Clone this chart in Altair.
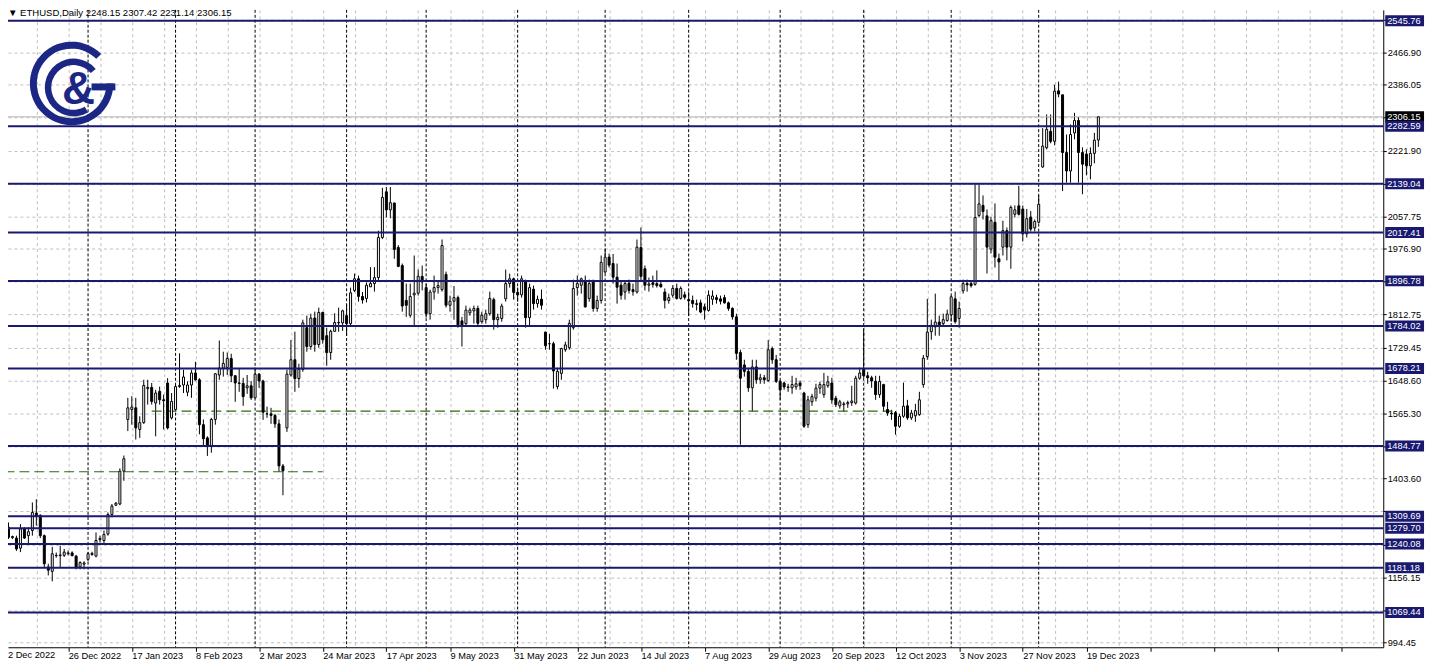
import altair as alt
import pandas as pd

# ---------------- data ----------------
opens = [1261,1282,1256,1255,1230,1278,1261,1274,1317,1312, 1261,1183,1172,1211,1211,1212,1216,1218,1210,1183,
         1190,1202,1214,1210,1251,1249,1265,1314,1337,1340, 1422,1551,1576,1580,1526,1543,1628,1631,1592,1621,
         1600,1642,1555,1576,1633,1637,1619,1637,1667,1650, 1538,1505,1484,1551,1662,1679,1681,1703,1660,1642,
         1641,1630,1635,1605,1664,1647,1565,1565,1561,1540, 1435,1530,1662,1700,1653,1676,1780,1733,1804,1738,
         1818,1760,1718,1771,1793,1792,1810,1790,1873,1902, 1858,1853,1882,1890,1905,2005,2119,2074,2091,1980,
         1935,1848,1811,1862,1866,1908,1880,1815,1869,1880, 1875,1913,1836,1846,1855,1797,1790,1817,1822,1828,
         1795,1800,1815,1850,1800,1803,1852,1890,1902,1868, 1862,1895,1805,1876,1840,1851,1769,1740,1740,1633,
         1666,1725,1730,1780,1880,1886,1894,1853,1894,1828, 1848,1919,1956,1940,1906,1886,1869,1891,1875,1869,
         1980,1927,1886,1892,1890,1888,1869,1848,1861,1878, 1853,1862,1850,1848,1840,1842,1832,1823,1851,1855,
         1852,1855,1842,1828,1807,1718,1687,1671,1630,1682, 1650,1655,1648,1728,1700,1646,1642,1632,1630,1632,
         1642,1617,1538,1595,1604,1629,1613,1635,1642,1604, 1585,1588,1590,1593,1592,1654,1676,1660,1655,1646,
         1613,1638,1576,1567,1568,1534,1559,1585,1555,1560, 1563,1638,1708,1770,1782,1794,1790,1798,1812,1852,
         1803,1872,1890,1890,1888,2060,2085,2059,1976,2043, 1952,1981,2022,1981,2063,2084,2076,2014,2056,2029,
         2043,2181,2229,2270,2245,2371,2361,2217,2171,2266, 2297,2217,2213,2184,2215,2248.15]
highs = [1294,1294,1261,1261,1290,1282,1282,1344,1352,1314, 1264,1191,1233,1219,1236,1228,1224,1222,1213,1197,
         1197,1220,1221,1269,1261,1274,1319,1340,1345,1429, 1461,1605,1609,1605,1559,1650,1650,1642,1625,1633,
         1613,1654,1617,1638,1716,1675,1646,1675,1695,1654, 1551,1509,1555,1667,1748,1720,1718,1715,1662,1678,
         1655,1662,1647,1680,1667,1650,1583,1580,1565,1551, 1440,1675,1749,1770,1690,1800,1810,1815,1820,1830,
         1820,1780,1775,1816,1830,1825,1838,1880,1915,1910, 1869,1893,1931,1931,2022,2129,2131,2131,2092,1986,
         1940,1890,1890,1960,1925,1935,1890,1875,1910,1895, 2000,1920,1860,1884,1860,1807,1835,1830,1835,1835,
         1820,1825,1870,1855,1815,1840,1925,1915,1905,1880, 1910,1900,1890,1885,1860,1875,1770,1765,1745,1680,
         1730,1745,1800,1900,1910,1905,1910,1900,1900,1860, 1960,1977,1965,1964,1940,1895,1895,1900,1890,2000,
         2030,1935,1905,1910,1923,1895,1878,1865,1886,1890, 1883,1870,1870,1860,1850,1850,1840,1873,1873,1862,
         1860,1862,1845,1831,1815,1725,1700,1680,1700,1700, 1665,1662,1749,1733,1712,1650,1645,1640,1660,1655,
         1648,1620,1610,1615,1640,1645,1667,1660,1655,1610, 1600,1595,1598,1635,1660,1680,1775,1670,1660,1660,
         1660,1640,1595,1575,1572,1565,1643,1600,1575,1590, 1620,1712,1852,1800,1865,1810,1815,1825,1860,1870,
         1845,1900,1900,1895,2138,2138,2110,2075,2057,2090, 1965,2047,2030,2085,2085,2134,2085,2076,2071,2050,
         2110,2278,2312,2312,2386,2394,2361,2262,2287,2316, 2305,2230,2225,2230,2266,2307.42]
lows = [1253,1253,1253,1223,1220,1253,1241,1261,1286,1255, 1183,1162,1147,1206,1183,1208,1212,1210,1177,1177,
        1177,1197,1211,1207,1244,1241,1261,1307,1335,1337, 1398,1522,1538,1501,1505,1540,1588,1588,1509,1588,
        1526,1526,1551,1572,1630,1617,1609,1605,1648,1514, 1484,1460,1468,1538,1650,1658,1662,1644,1595,1620,
        1585,1615,1600,1605,1630,1550,1555,1540,1530,1420, 1362,1520,1658,1620,1630,1670,1720,1725,1720,1730,
        1740,1685,1700,1770,1770,1772,1760,1785,1869,1845, 1840,1843,1882,1870,1898,2001,2055,2053,1952,1931,
        1820,1807,1805,1782,1860,1873,1805,1800,1850,1865, 1870,1830,1820,1800,1780,1733,1785,1810,1790,1785,
        1790,1790,1810,1775,1780,1795,1845,1880,1850,1845, 1855,1780,1785,1825,1830,1825,1725,1725,1628,1626,
        1650,1720,1725,1775,1860,1865,1830,1845,1820,1820, 1840,1915,1930,1890,1840,1850,1850,1865,1860,1865,
        1894,1873,1870,1880,1880,1880,1828,1840,1855,1850, 1850,1850,1810,1830,1823,1816,1800,1820,1837,1840,
        1838,1840,1822,1800,1700,1488,1658,1620,1571,1640, 1640,1640,1645,1690,1642,1600,1625,1620,1615,1625,
        1625,1530,1530,1585,1596,1615,1605,1630,1590,1582, 1578,1570,1580,1585,1588,1650,1655,1640,1630,1600,
        1605,1570,1560,1550,1513,1530,1555,1550,1550,1545, 1560,1630,1700,1750,1760,1760,1785,1795,1795,1790,
        1780,1865,1870,1880,1885,2055,2050,1915,1965,1930, 1898,1960,1948,1927,2055,2060,1995,2005,2020,2020,
        2040,2179,2225,2240,2235,2355,2121,2142,2142,2250, 2142,2113,2160,2150,2190,2231.14]
closes = [1290,1257,1259,1228,1278,1255,1271,1319,1309,1261, 1191,1175,1216,1212,1213,1220,1218,1211,1183,1194,
          1193,1216,1217,1249,1254,1264,1314,1335,1342,1422, 1453,1580,1582,1530,1543,1636,1631,1596,1617,1600,
          1598,1530,1596,1633,1636,1657,1637,1667,1650,1538, 1503,1484,1551,1665,1679,1691,1703,1660,1642,1641,
          1608,1635,1605,1664,1647,1569,1565,1561,1540,1435, 1423,1664,1700,1653,1676,1792,1733,1804,1738,1818,
          1750,1718,1771,1793,1792,1822,1790,1867,1902,1858, 1849,1886,1890,1905,2005,2105,2074,2092,1975,1933,
          1834,1836,1858,1866,1908,1894,1815,1869,1880,1885, 1985,1836,1846,1855,1787,1787,1824,1824,1828,1791,
          1811,1815,1853,1800,1806,1834,1890,1902,1868,1862, 1902,1805,1880,1840,1851,1836,1735,1740,1672,1671,
          1728,1737,1791,1878,1890,1902,1832,1890,1828,1848, 1943,1956,1936,1906,1881,1861,1890,1873,1870,1981,
          1908,1886,1889,1888,1885,1882,1848,1855,1878,1853, 1878,1856,1847,1840,1838,1819,1824,1861,1859,1850,
          1846,1842,1828,1807,1716,1654,1671,1630,1682,1650, 1655,1650,1725,1700,1646,1625,1632,1631,1638,1640,
          1635,1534,1600,1608,1629,1638,1638,1645,1600,1588, 1595,1590,1593,1597,1654,1667,1660,1655,1647,1613,
          1646,1584,1567,1565,1534,1559,1584,1555,1567,1573, 1600,1704,1769,1786,1794,1783,1800,1814,1857,1795,
          1828,1890,1887,1885,2055,2089,2070,1981,2047,1956, 1944,2022,1981,2080,2074,2063,2014,2052,2026,2045,
          2088,2233,2275,2245,2370,2363,2217,2171,2262,2297, 2217,2188,2184,2215,2248,2306.15]

date_labels = ["2 Dec 2022", "26 Dec 2022", "17 Jan 2023", "8 Feb 2023", "2 Mar 2023", "24 Mar 2023",
               "17 Apr 2023", "9 May 2023", "31 May 2023", "22 Jun 2023", "14 Jul 2023", "7 Aug 2023",
               "29 Aug 2023", "20 Sep 2023", "12 Oct 2023", "3 Nov 2023", "27 Nov 2023", "19 Dec 2023"]
grid_prices = [994.45, 1075.30, 1156.15, 1237.00, 1321.55, 1403.60, 1484.45, 1565.30, 1648.60, 1729.45,
               1812.75, 1896.05, 1976.90, 2057.75, 2139.85, 2221.90, 2304.95, 2386.05, 2466.90, 2547.00]
hidden_grid_labels = [1075.30, 1237.00, 1321.55, 1484.45, 1896.05, 2139.85, 2304.95, 2547.00]
level_prices = [2545.76, 2282.59, 2139.04, 2017.41, 1896.78, 1784.02, 1678.21, 1484.77,
                1309.69, 1279.70, 1240.08, 1181.18, 1069.44]
month_starts = [21, 43, 63, 86, 106, 129, 151, 172, 195, 216, 238, 260]
dash_prices = [1571.9, 1420.5]
dash_from = [37, 0]
dash_to = [224, 80]
current_price = 2306.15
header_text = "\u25BC ETHUSD,Daily  2248.15 2307.42 2231.14 2306.15"

# ---------------- styling ----------------
NAVY = "#191970"
LOGO = "#1c2785"
GRID = "#c0c0c0"
FONT = "Liberation Sans"
FS = 9.3
W, H = 1383, 641

df = pd.DataFrame({"i": list(range(len(opens))), "open": opens, "high": highs,
                   "low": lows, "close": closes})

xs = alt.Scale(domain=[0.875, 346.625], nice=False, zero=False)
ys = alt.Scale(domain=[982.6, 2573.05], nice=False, zero=False)

lab_arr = "[" + ",".join("'" + s + "'" for s in date_labels) + "]"
hid_arr = "[" + ",".join(repr(v) for v in hidden_grid_labels) + "]"
x_axis = alt.Axis(values=list(range(0, 345, 8)), grid=True, gridColor=GRID, gridDash=[3, 3],
                  gridWidth=1, domainColor="black", domainWidth=1, tickColor="black", tickSize=4,
                  tickOpacity={"condition": {"test": "datum.value % 16 === 0", "value": 1}, "value": 0},
                  labelExpr="datum.value % 16 === 0 ? " + lab_arr + "[datum.value / 16] : ''",
                  labelAlign="left", labelBaseline="top", labelPadding=0, labelFont=FONT,
                  labelFontSize=FS, labelColor="black", labelOverlap=False, labelFlush=False,
                  labelBound=False, title=None, zindex=0)
y_axis = alt.Axis(orient="right", values=grid_prices, grid=True, gridColor=GRID,
                  gridDash=[3, 3], gridWidth=1, domainColor="black", domainWidth=1,
                  tickColor="black", tickSize=3, labelPadding=1, labelFont=FONT, labelFontSize=FS,
                  labelExpr="indexof(" + hid_arr + ", datum.value) >= 0 ? '' : format(datum.value, '.2f')",
                  labelColor="black", labelOverlap=False, labelBaseline="middle", title=None,
                  zindex=0)


def X(field):
    return alt.X(field, scale=xs, axis=x_axis, title=None)


def Y(field):
    return alt.Y(field, scale=ys, axis=y_axis, title=None)


base = alt.Chart(df)

wicks = base.mark_rule(color="black", strokeWidth=1).encode(
    x=X("i:Q"), y=Y("low:Q"), y2="high:Q")

bodies = base.transform_calculate(
    x0="datum.i - 0.25", x1="datum.i + 0.25"
).mark_rect(stroke="black", strokeWidth=1).encode(
    x=X("x0:Q"), x2="x1:Q", y=Y("open:Q"), y2="close:Q",
    fill=alt.condition("datum.close >= datum.open", alt.value("white"), alt.value("black")),
)

seps = alt.Chart(pd.DataFrame({"i": month_starts})).mark_rule(
    color="black", strokeWidth=1, strokeDash=[3, 2]
).encode(x=X("i:Q"))

dashes = alt.Chart(pd.DataFrame({"p": dash_prices, "a": dash_from, "b": dash_to})).mark_rule(
    color="#2f6a10", strokeWidth=1.2, strokeDash=[10, 5]
).encode(x=X("a:Q"), x2="b:Q", y=Y("p:Q"))

bid = alt.Chart(pd.DataFrame({"p": [current_price]})).mark_rule(
    color="#b4b4b4", strokeWidth=1
).encode(y=Y("p:Q"))

levels_df = pd.DataFrame({"p": level_prices})
levels = alt.Chart(levels_df).mark_rule(color=NAVY, strokeWidth=2).encode(y=Y("p:Q"))

cur_df = pd.DataFrame({"p": [current_price]})
cur_box = alt.Chart(cur_df).mark_tick(
    orient="horizontal", size=39, thickness=11, color="black", opacity=1
).encode(x=alt.value(1404.5), y=Y("p:Q"))
cur_txt = alt.Chart(cur_df).mark_text(
    align="left", baseline="middle", font=FONT, fontSize=FS, color="white"
).encode(x=alt.value(1387), y=Y("p:Q"), text=alt.Text("p:Q", format=".2f"))

lvl_box = alt.Chart(levels_df).mark_tick(
    orient="horizontal", size=39, thickness=11, color=NAVY, opacity=1
).encode(x=alt.value(1404.5), y=Y("p:Q"))
lvl_txt = alt.Chart(levels_df).mark_text(
    align="left", baseline="middle", font=FONT, fontSize=FS, color="white"
).encode(x=alt.value(1387), y=Y("p:Q"), text=alt.Text("p:Q", format=".2f"))

header = alt.Chart(pd.DataFrame({"t": [header_text]})).mark_text(
    align="left", baseline="middle", font=FONT, fontSize=9.6, color="black"
).encode(x=alt.value(0), y=alt.value(3), text="t:N")

first_date = alt.Chart(pd.DataFrame({"t": [date_labels[0]]})).mark_text(
    align="left", baseline="top", font=FONT, fontSize=FS, color="black"
).encode(x=alt.value(0), y=alt.value(H + 4), text="t:N")

# logo (decorative)
one = pd.DataFrame({"k": [0]})
logo_outer = alt.Chart(one).mark_arc(
    radius=42, radius2=35, theta=1.5708, theta2=7.0686, color=LOGO
).encode(x=alt.value(64), y=alt.value(74))
logo_inner = alt.Chart(one).mark_arc(
    radius=29, radius2=22.5, theta=2.618, theta2=7.156, color=LOGO
).encode(x=alt.value(66), y=alt.value(78))
logo_bar = alt.Chart(one).mark_rect(color=LOGO).encode(
    x=alt.value(84), x2=alt.value(108), y=alt.value(74), y2=alt.value(81))
logo_amp = alt.Chart(pd.DataFrame({"t": ["&"]})).mark_text(
    font="Liberation Sans", fontWeight="bold", fontSize=46, color=LOGO, align="center",
    baseline="alphabetic"
).encode(x=alt.value(71), y=alt.value(95), text="t:N")

chart = alt.layer(
    wicks, seps, dashes, bid, bodies, levels, cur_box, cur_txt, lvl_box, lvl_txt,
    header, first_date, logo_outer, logo_inner, logo_bar, logo_amp
).properties(
    width=W, height=H, background="white",
    autosize=alt.AutoSizeParams(type="none"),
    padding={"left": 0, "top": 0, "right": 46, "bottom": 20},
).configure_view(strokeWidth=0)

chart.save("out.html", embed_options={"renderer": "svg", "actions": False})
